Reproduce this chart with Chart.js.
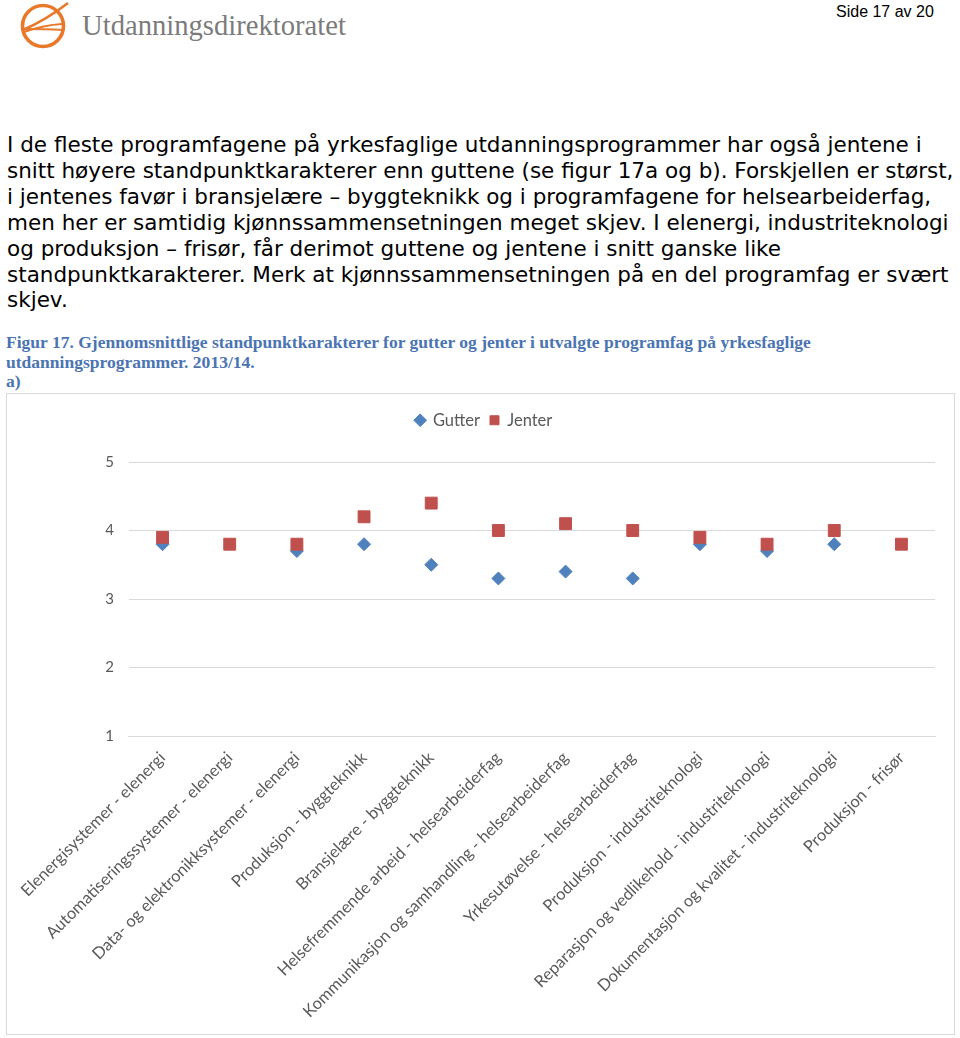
<!DOCTYPE html>
<html>
<head>
<meta charset="utf-8">
<script src="https://cdn.jsdelivr.net/npm/chart.js@4/dist/chart.umd.min.js"></script>
<style>
  html, body { margin: 0; padding: 0; background: #fff; }
  body { width: 960px; height: 1038px; position: relative; overflow: hidden; }
  .abs { position: absolute; white-space: nowrap; }
  #brand { left: 82px; top: 9px; font-family: "Liberation Serif", serif; font-size: 28px; color: #7b7b7b; }
  #side { left: 836px; top: 3px; font-family: "Liberation Sans", Arial, sans-serif; font-size: 16px; color: #000; }
  #body { left: 7px; top: 132px; font-family: "DejaVu Sans", Verdana, sans-serif; font-size: 18.3px; line-height: 25.9px; color: #000; }
  #cap { left: 6px; top: 333px; font-family: "Liberation Serif", "Times New Roman", serif; font-weight: bold; font-size: 16px; line-height: 19.6px; color: #4A74B2; }
  #box { left: 6px; top: 393px; width: 947px; height: 640px; border: 1px solid #D9D9D9; }
  #wrap { position: absolute; left: 7px; top: 394px; width: 947px; height: 640px; }
</style>
</head>
<body>
<svg class="abs" style="left:16px;top:0px" width="56" height="52" viewBox="0 0 56 52">
  <circle cx="27" cy="26" r="20.5" fill="none" stroke="#E8782A" stroke-width="3.6"/>
  <path d="M7 30 Q 30 20 52 3" fill="none" stroke="#E8782A" stroke-width="2.6"/>
  <path d="M8 32 Q 28 25 46 24" fill="none" stroke="#E8782A" stroke-width="2.2"/>
  <path d="M9 29 Q 30 29 47 30" fill="none" stroke="#E8782A" stroke-width="1.8"/>
</svg>
<div id="brand" class="abs">Utdanningsdirektoratet</div>
<div id="side" class="abs">Side 17 av 20</div>
<div id="body" class="abs">I de fleste programfagene på yrkesfaglige utdanningsprogrammer har også jentene i<br>snitt høyere standpunktkarakterer enn guttene (se figur 17a og b). Forskjellen er størst,<br>i jentenes favør i bransjelære – byggteknikk og i programfagene for helsearbeiderfag,<br>men her er samtidig kjønnssammensetningen meget skjev. I elenergi, industriteknologi<br>og produksjon – frisør, får derimot guttene og jentene i snitt ganske like<br>standpunktkarakterer. Merk at kjønnssammensetningen på en del programfag er svært<br>skjev.</div>
<div id="cap" class="abs">Figur 17. Gjennomsnittlige standpunktkarakterer for gutter og jenter i utvalgte programfag på yrkesfaglige<br>utdanningsprogrammer. 2013/14.<br>a)</div>
<div id="box" class="abs"></div>
<div id="wrap"><canvas id="c"></canvas></div>
<script>
const categories = [
  "Elenergisystemer - elenergi",
  "Automatiseringssystemer - elenergi",
  "Data- og elektronikksystemer - elenergi",
  "Produksjon - byggteknikk",
  "Bransjelære - byggteknikk",
  "Helsefremmende arbeid - helsearbeiderfag",
  "Kommunikasjon og samhandling - helsearbeiderfag",
  "Yrkesutøvelse - helsearbeiderfag",
  "Produksjon - industriteknologi",
  "Reparasjon og vedlikehold - industriteknologi",
  "Dokumentasjon og kvalitet - industriteknologi",
  "Produksjon - frisør"
];
const gutter = [3.8, null, 3.7, 3.8, 3.5, 3.3, 3.4, 3.3, 3.8, 3.7, 3.8, null];
const jenter = [3.9, 3.8, 3.8, 4.2, 4.4, 4.0, 4.1, 4.0, 3.9, 3.8, 4.0, 3.8];
const yTicks = [1, 2, 3, 4, 5];

// fit text widths to the reference
function fitWidth(id, text, target) {
  const el = document.getElementById(id);
  const cs = getComputedStyle(el);
  const cv = document.createElement('canvas').getContext('2d');
  cv.font = cs.fontWeight + ' ' + cs.fontSize + ' ' + cs.fontFamily;
  const w = cv.measureText(text).width;
  el.style.fontSize = (parseFloat(cs.fontSize) * target / w) + 'px';
}
fitWidth('body', 'I de fleste programfagene på yrkesfaglige utdanningsprogrammer har også jentene i', 914);
fitWidth('cap', 'Figur 17. Gjennomsnittlige standpunktkarakterer for gutter og jenter i utvalgte programfag på yrkesfaglige', 807);
fitWidth('brand', 'Utdanningsdirektoratet', 264);

const FONT = 'Lato, "Open Sans", sans-serif';
const GREY = '#595959';

new Chart(document.getElementById('c'), {
  type: 'line',
  data: {
    labels: categories,
    datasets: [
      {
        label: 'Gutter', data: gutter, order: 1, showLine: false,
        pointStyle: 'rectRot', pointRadius: 6.5, pointHoverRadius: 6.5,
        backgroundColor: '#4F81BD', borderColor: '#4F81BD', pointBorderWidth: 1
      },
      {
        label: 'Jenter', data: jenter, order: 0, showLine: false,
        pointStyle: 'rect', pointRadius: 8.4, pointHoverRadius: 8.4,
        backgroundColor: '#C0504D', borderColor: '#C0504D', pointBorderWidth: 1
      }
    ]
  },
  options: {
    responsive: true,
    maintainAspectRatio: false,
    animation: false,
    layout: { padding: { top: 8, right: 19, bottom: 0, left: 26 } },
    plugins: {
      legend: {
        position: 'top',
        labels: {
          usePointStyle: true, boxWidth: 9, boxHeight: 9, padding: 10,
          color: GREY, font: { family: FONT, size: 16.5 },
          sort: (a, b) => a.datasetIndex - b.datasetIndex
        }
      },
      subtitle: {
        display: true, text: '', weight: 500,
        font: { size: 10, lineHeight: 1 },
        padding: { top: 0, bottom: 13.5 }
      },
      tooltip: { enabled: false }
    },
    scales: {
      x: {
        offset: true,
        grid: { display: false, drawTicks: false },
        border: { display: true, color: '#D9D9D9', width: 1 },
        ticks: {
          autoSkip: false, maxRotation: 45, minRotation: 45, padding: 12,
          color: GREY, font: { family: FONT, size: 16.5 }
        },
        afterFit: (s) => { s.height = 298; }
      },
      y: {
        min: 1, max: 5,
        afterBuildTicks: (s) => { s.ticks = yTicks.map(v => ({ value: v })); },
        grid: { color: '#D9D9D9', lineWidth: 1, drawTicks: false },
        border: { display: false },
        ticks: { padding: 15, color: GREY, font: { family: FONT, size: 15 } },
        afterFit: (s) => { s.width = 95; }
      }
    }
  }
});
</script>
</body>
</html>
